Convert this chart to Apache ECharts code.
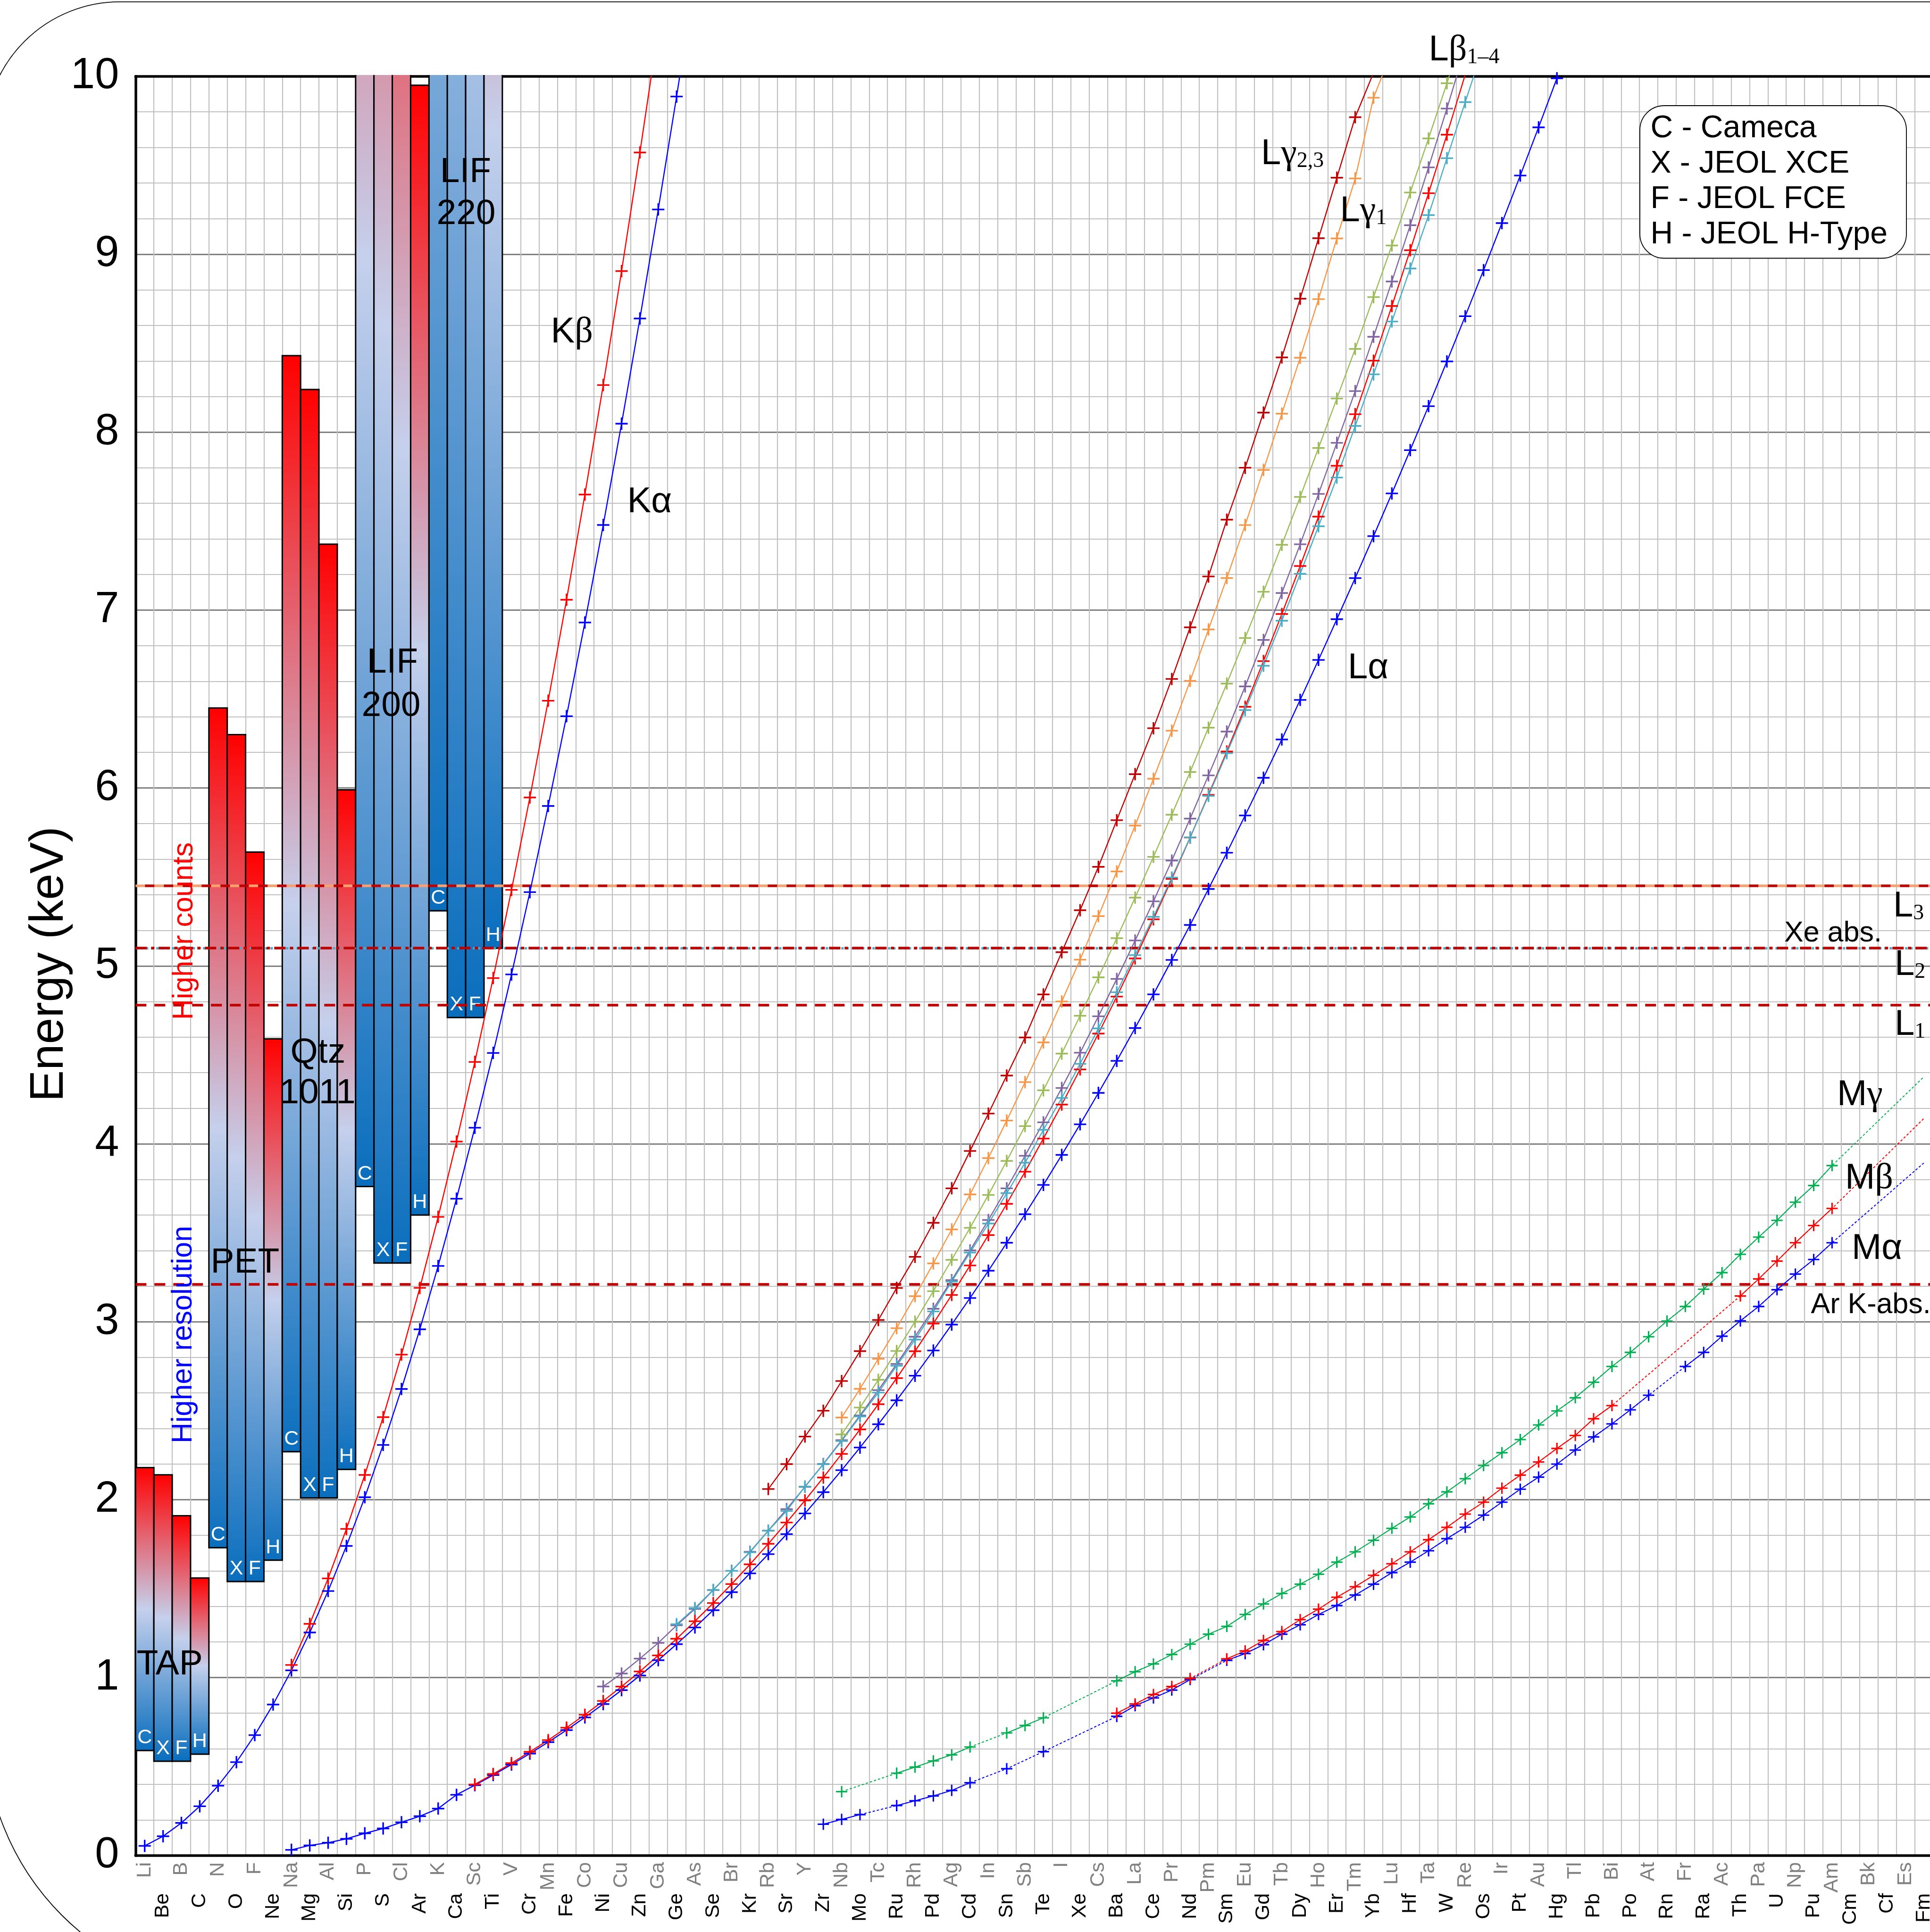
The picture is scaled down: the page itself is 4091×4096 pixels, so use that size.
<!DOCTYPE html>
<html>
<head>
<meta charset="utf-8">
<title>X-ray lines and WDS crystal ranges</title>
<script src="https://cdn.jsdelivr.net/npm/echarts@6/dist/echarts.min.js"></script>
<style>
  html, body { margin: 0; padding: 0; background: #fff; }
  #main { width: 4091px; height: 4096px; }
</style>
</head>
<body>
<div id="main"></div>
<script>
// element columns, Li (Z=3) .. Fm (Z=100)
var elements = ['Li','Be','B','C','N','O','F','Ne','Na','Mg','Al','Si','P','S','Cl','Ar',
  'K','Ca','Sc','Ti','V','Cr','Mn','Fe','Co','Ni','Cu','Zn','Ga','Ge','As','Se','Br','Kr',
  'Rb','Sr','Y','Zr','Nb','Mo','Tc','Ru','Rh','Pd','Ag','Cd','In','Sn','Sb','Te','I','Xe',
  'Cs','Ba','La','Ce','Pr','Nd','Pm','Sm','Eu','Gd','Tb','Dy','Ho','Er','Tm','Yb','Lu','Hf',
  'Ta','W','Re','Os','Ir','Pt','Au','Hg','Tl','Pb','Bi','Po','At','Rn',
  'Fr','Ra','Ac','Th','Pa','U','Np','Pu','Am','Cm','Bk','Cf','Es','Fm'];

// K lines (keV)
var kAlpha = [0.0543, 0.1085, 0.1833, 0.2770, 0.3924, 0.5249, 0.6768, 0.8486, 1.0410, 1.2536,
  1.4867, 1.7400, 2.0137, 2.3078, 2.6224, 2.9577, 3.3138, 3.6917, 4.0906, 4.5109, 4.9522,
  5.4147, 5.8988, 6.4038, 6.9303, 7.4782, 8.0478, 8.6389, 9.2517, 9.8864, 10.5437];   // from Li
var kBeta = [1.0711, 1.3022, 1.5575, 1.8359, 2.1391, 2.4640, 2.8156, 3.1905, 3.5896, 4.0127,
  4.4605, 4.9318, 5.4273, 5.9467, 6.4905, 7.0580, 7.6494, 8.2647, 8.9053, 9.5720, 10.2642]; // from Na

// L lines (keV)
var lAlpha = [0.032, 0.057, 0.072, 0.094, 0.125, 0.152, 0.187, 0.221, 0.264,
  0.3413, 0.3954, 0.4522, 0.5113, 0.5728, 0.6374, 0.7050, 0.7762, 0.8515, 0.9297, 1.0117,
  1.0979, 1.1880, 1.2819, 1.3791, 1.4804, 1.5860, 1.6941, 1.8066, 1.9226, 2.0424, 2.1659,
  2.2932, 2.4240, 2.5585, 2.6968, 2.8386, 2.9843, 3.1337, 3.2869, 3.4440, 3.6047, 3.7693,
  3.9377, 4.1099, 4.2865, 4.4663, 4.6510, 4.8402, 5.0337, 5.2304, 5.4325, 5.6361, 5.8457,
  6.0572, 6.2728, 6.4952, 6.7198, 6.9487, 7.1799, 7.4156, 7.6555, 7.8990, 8.1461, 8.3976,
  8.6517, 8.9108, 9.1751, 9.4423, 9.7133, 9.9888, 10.2685];   // from Na
var lBeta1 = [0.3996, 0.4584, 0.5192, 0.5828, 0.6488, 0.7185, 0.7914, 0.8688, 0.9498, 1.0347,
  1.1248, 1.2185, 1.3170, 1.4190, 1.5259, 1.6366, 1.7522, 1.8718, 1.9958, 2.1244, 2.2574,
  2.3948, 2.5368, 2.6833, 2.8344, 2.9902, 3.1509, 3.3165, 3.4872, 3.6628, 3.8435, 4.0295,
  4.2208, 4.4183, 4.6198, 4.8275, 5.0421, 5.2622, 5.4889, 5.7216, 5.9613, 6.2051, 6.4564,
  6.7132, 6.9780, 7.2477, 7.5253, 7.8109, 8.1010, 8.4018, 8.7090, 9.0227, 9.3431, 9.6720,
  10.0100];   // from Sc
var lBeta2 = [2.367, 2.518, 2.674, 2.836, 3.001, 3.172, 3.348, 3.528, 3.713, 3.904, 4.100,
  4.301, 4.507, 4.720, 4.936, 5.156, 5.384, 5.613, 5.850, 6.090, 6.339, 6.587, 6.843, 7.103,
  7.367, 7.636, 7.911, 8.189, 8.468, 8.759, 9.049, 9.347, 9.651, 9.961, 10.275];   // from Nb
var lBeta3 = [0.950, 1.023, 1.107, 1.195, 1.294, 1.386, 1.492, 1.600, 1.707, 1.826, 1.947,
  2.072, 2.201, 2.335, 2.473, 2.616, 2.763, 2.916, 3.073, 3.234, 3.401, 3.572, 3.750, 3.933,
  4.121, 4.314, 4.512, 4.717, 4.927, 5.143, 5.363, 5.592, 5.828, 6.071, 6.317, 6.571, 6.832,
  7.096, 7.370, 7.653, 7.940, 8.231, 8.536, 8.847, 9.163, 9.488, 9.819, 10.160];   // from Ni
var lBeta4 = [1.300, 1.391, 1.493, 1.600, 1.704, 1.826, 1.937, 2.074, 2.199, 2.330, 2.468,
  2.602, 2.753, 2.900, 3.058, 3.226, 3.389, 3.552, 3.723, 3.894, 4.079, 4.258, 4.450, 4.649,
  4.852, 5.061, 5.276, 5.497, 5.723, 5.956, 6.196, 6.438, 6.687, 6.940, 7.204, 7.471, 7.745,
  8.035, 8.325, 8.622, 8.920, 9.220, 9.540, 9.855, 10.170];   // from Ge
var lGamma1 = [2.462, 2.623, 2.792, 2.964, 3.144, 3.328, 3.519, 3.716, 3.920, 4.131, 4.347,
  4.570, 4.800, 5.035, 5.280, 5.531, 5.789, 6.052, 6.322, 6.602, 6.891, 7.180, 7.478, 7.788,
  8.104, 8.418, 8.748, 9.089, 9.426, 9.880, 10.140];   // from Nb
var lGamma23 = [2.06, 2.20, 2.355, 2.50, 2.667, 2.835, 3.01, 3.19, 3.365, 3.556, 3.75, 3.96,
  4.17, 4.384, 4.598, 4.84, 5.077, 5.313, 5.557, 5.819, 6.078, 6.336, 6.613, 6.903, 7.189,
  7.508, 7.80, 8.11, 8.42, 8.75, 9.09, 9.43, 9.77, 10.02];   // from Rb

// M lines (keV), null = no value; the Fm value only ends the dotted extension
var mAlpha = [0.176, 0.203, 0.230, null, 0.281, 0.308, 0.335, 0.366, 0.409, null,
  0.488, null, 0.584, null, null, null, 0.782, 0.842, 0.886, 0.930,
  0.989, null, 1.097, 1.135, 1.185, 1.244, 1.297, 1.355, 1.405, 1.464,
  1.525, 1.590, 1.649, 1.713, 1.781, 1.845, 1.913, 1.986, 2.059, 2.127,
  2.200, 2.279, 2.353, 2.426, 2.505, 2.587, null, 2.749, 2.828, 2.919,
  3.005, 3.086, 3.180, 3.268, 3.350, 3.444];   // from Zr
var mAlphaFm = 3.892;
var mBeta = [0.800, 0.852, 0.905, 0.950, 0.995, null, 1.106, 1.150, 1.209, 1.259,
  1.326, 1.385, 1.452, 1.511, 1.575, 1.640, 1.707, 1.775, 1.845, 1.919,
  1.986, 2.065, 2.138, 2.212, 2.288, 2.361, 2.455, 2.529, null, null,
  null, null, null, null, 3.145, 3.241, 3.341, 3.444, 3.541, 3.637];   // from Ba
var mBetaFm = 4.142;
var mGamma = [0.359, null, null, 0.463, 0.497, 0.532, 0.566, 0.610, null, 0.689,
  0.731, 0.774, null, null, null, 0.982, 1.033, 1.077, 1.130, 1.188,
  1.244, 1.288, 1.355, 1.414, 1.473, 1.525, 1.581, 1.649, 1.707, 1.772,
  1.839, 1.903, 1.977, 2.044, 2.118, 2.192, 2.264, 2.338, 2.420, 2.499,
  2.573, 2.660, 2.749, 2.828, 2.916, 3.004, 3.086, 3.183, 3.276, 3.379,
  3.476, 3.570, 3.672, 3.766, 3.878];   // from Nb
var mGammaFm = 4.376;

// spectrometer crystal ranges (keV): TAP, PET, Qtz 1011, LIF 200, LIF 220
var barCols = ['Li','Be','B','C', 'N','O','F','Ne', 'Na','Mg','Al','Si', 'P','S','Cl','Ar', 'K','Ca','Sc','Ti'];
var barTags = ['C','X','F','H', 'C','X','F','H', 'C','X','F','H', 'C','X','F','H', 'C','X','F','H'];
var barLow  = [0.59, 0.53, 0.53, 0.57, 1.73, 1.54, 1.54, 1.66, 2.27, 2.01, 2.01, 2.17,
  3.76, 3.33, 3.33, 3.60, 5.31, 4.71, 4.71, 5.10];
var barHigh = [2.18, 2.14, 1.91, 1.56, 6.45, 6.30, 5.64, 4.59, 8.43, 8.24, 7.37, 5.99,
  14.2, 13.9, 12.5, 9.95, 21.5, 20.8, 17.5, 14.3];

// absorption edges drawn as horizontal lines
var edgeL3 = 5.453, edgeL2 = 5.104, edgeL1 = 4.782, edgeArK = 3.206;

var SANS = '"Liberation Sans", Arial, sans-serif';
var SERIF = '"Liberation Serif", "Times New Roman", serif';
var PLUS = 'path://M-10,-1.3L10,-1.3L10,1.3L-10,1.3ZM-1.3,-10L1.3,-10L1.3,10L-1.3,10Z';

function pad(start, values) {
  var out = elements.map(function () { return null; });
  var s = elements.indexOf(start);
  for (var k = 0; k < values.length; k++) { out[s + k] = values[k]; }
  return out;
}

function curve(start, values, color) {
  return {
    type: 'line', z: 5, silent: true, data: pad(start, values),
    symbol: PLUS, symbolSize: 26, symbolKeepAspect: true, showAllSymbol: true,
    connectNulls: false,
    itemStyle: {color: color, borderWidth: 0},
    lineStyle: {color: color, width: 2.4}
  };
}

function mCurve(start, values, endVal, color) {
  var full = pad(start, values);
  full[elements.length - 1] = endVal;
  return [{
    type: 'line', z: 5, silent: true, data: full, connectNulls: true, showSymbol: false,
    lineStyle: {color: color, width: 2, type: [5, 4]}
  }, {
    type: 'line', z: 5, silent: true, data: pad(start, values), connectNulls: false,
    symbol: PLUS, symbolSize: 24, symbolKeepAspect: true, showAllSymbol: true,
    itemStyle: {color: color, borderWidth: 0},
    lineStyle: {color: color, width: 2}
  }];
}

function renderBar(params, api) {
  var i = api.value(0);
  var lo = api.coord([i, api.value(1)]);
  var hi = api.coord([i, api.value(2)]);
  var w = api.size([1, 0])[0];
  var cs = params.coordSys;
  var x0 = lo[0] - w / 2, x1 = lo[0] + w / 2;
  var yb = lo[1], yt = hi[1];
  var clipTop = cs.y - 2.8;
  var clipped = yt < clipTop;
  var ytc = clipped ? clipTop : yt;
  var fill = new echarts.graphic.LinearGradient(0, yt, 0, yb, [
    {offset: 0, color: '#ff0000'},
    {offset: 0.5, color: '#c5d0ec'},
    {offset: 1, color: '#0a6ebd'}
  ], true);
  var kids = [{type: 'rect', shape: {x: x0, y: ytc, width: w, height: yb - ytc}, style: {fill: fill}}];
  if (clipped) {
    kids.push({type: 'polyline', shape: {points: [[x0, ytc], [x0, yb], [x1, yb], [x1, ytc]]},
      style: {fill: 'none', stroke: '#000', lineWidth: 3}});
  } else {
    kids.push({type: 'rect', shape: {x: x0, y: ytc, width: w, height: yb - ytc},
      style: {fill: 'none', stroke: '#000', lineWidth: 3}});
  }
  kids.push({type: 'text', style: {text: barTags[params.dataIndex], x: lo[0], y: yb - 5.3,
    fill: '#fff', fontSize: 43, fontFamily: SANS, align: 'center', verticalAlign: 'bottom'}});
  return {type: 'group', children: kids};
}

var rich = {
  s: {fill: '#000', fontFamily: SANS, fontSize: 76, lineHeight: 76, verticalAlign: 'bottom'},
  g: {fill: '#000', fontFamily: SERIF, fontSize: 76, lineHeight: 76, verticalAlign: 'bottom'},
  b: {fill: '#000', fontFamily: SERIF, fontSize: 46, lineHeight: 46, verticalAlign: 'bottom'}
};
function richText(x, y, text) {
  return {type: 'text', z: 100, x: x, y: y, silent: true,
    style: {text: text, rich: rich, align: 'left', verticalAlign: 'bottom'}};
}
function plainText(x, y, text, size, color, align, rot) {
  return {type: 'text', z: 100, x: x, y: y, rotation: rot || 0, silent: true,
    style: {text: text, fill: color, fontSize: size, fontFamily: SANS,
      align: align, verticalAlign: rot ? 'middle' : 'bottom'}};
}

var darkRed = '#c00000';
var series = [{
  type: 'custom', z: 3, silent: true, clip: false,
  data: barCols.map(function (c, k) { return [c, barLow[k], barHigh[k]]; }),
  encode: {x: 0, y: [1, 2]},
  renderItem: renderBar
}, {
  type: 'line', z: 4, silent: true, data: [],
  markLine: {
    silent: true, symbol: ['none', 'none'], label: {show: false}, animation: false,
    data: [
      {yAxis: edgeL3, lineStyle: {color: '#f7a070', width: 5.5, type: [20, 20]}},
      {yAxis: edgeL3, lineStyle: {color: darkRed, width: 5.5, type: [20, 20], dashOffset: 20}},
      {yAxis: edgeL2, lineStyle: {color: '#4bacc6', width: 5, type: [5, 6]}},
      {yAxis: edgeL2, lineStyle: {color: darkRed, width: 5.5, type: [24, 9, 7, 9]}},
      {yAxis: edgeL1, lineStyle: {color: darkRed, width: 5.5, type: [23, 17]}},
      {yAxis: edgeArK, lineStyle: {color: darkRed, width: 5.5, type: [23, 17]}}
    ]
  }
},
  curve('Li', kAlpha, '#0000ff'),
  curve('Na', kBeta, '#ff0000'),
  curve('Na', lAlpha, '#0000ff'),
  curve('Sc', lBeta1, '#ff0000'),
  curve('Ni', lBeta3, '#8064a2'),
  curve('Ge', lBeta4, '#4bacc6'),
  curve('Nb', lBeta2, '#9bbb59'),
  curve('Nb', lGamma1, '#f79646'),
  curve('Rb', lGamma23, darkRed)
].concat(mCurve('Zr', mAlpha, mAlphaFm, '#0000ff'))
 .concat(mCurve('Ba', mBeta, mBetaFm, '#ff0000'))
 .concat(mCurve('Nb', mGamma, mGammaFm, '#00b050'));

var graphics = [
  // outer rounded frame
  {type: 'rect', z: 100, silent: true, shape: {x: -31.8, y: 3.9, width: 4400, height: 4220, r: [286, 0, 0, 557]},
    style: {fill: 'none', stroke: '#000', lineWidth: 1.8}},
  plainText(105, 2044, 'Energy (keV)', 100, '#000', 'center', Math.PI / 2),
  plainText(391, 1974, 'Higher counts', 61, '#ff0000', 'center', Math.PI / 2),
  plainText(389.5, 2829.5, 'Higher resolution', 61, '#0000ff', 'center', Math.PI / 2),
  // crystals
  plainText(359.7, 3567, 'TAP', 75, '#000', 'center'),
  plainText(519.5, 2715, 'PET', 75, '#000', 'center'),
  plainText(673.8, 2270, 'Qtz', 75, '#000', 'center'),
  plainText(673, 2356, '1011', 75, '#000', 'center'),
  plainText(832, 1443, 'LIF', 75, '#000', 'center'),
  plainText(829, 1535, '200', 75, '#000', 'center'),
  plainText(987, 403, 'LIF', 75, '#000', 'center'),
  plainText(988, 492, '220', 75, '#000', 'center'),
  // line names
  richText(1167.6, 743.4, '{s|K}{g|β}'),
  richText(1329.6, 1103.4, '{s|Kα}'),
  richText(2857, 1455, '{s|Lα}'),
  richText(2673, 365, '{s|L}{g|γ}{b|2,3}'),
  richText(2840.5, 486.4, '{s|L}{g|γ}{b|1}'),
  richText(3028.6, 145, '{s|L}{g|β}{b|1–4}'),
  richText(3894, 2360.4, '{s|M}{g|γ}'),
  richText(3911, 2537.4, '{s|M}{g|β}'),
  richText(3925, 2686.4, '{s|Mα}'),
  // edges
  richText(4013, 1960.4, '{s|L}{b|3}'),
  plainText(3782, 2009.6, 'Xe abs.', 61, '#000', 'left'),
  richText(4016, 2084, '{s|L}{b|2}'),
  richText(4016, 2211, '{s|L}{b|1}'),
  plainText(3838.5, 2797.6, 'Ar K-abs.', 61, '#000', 'left'),
  // spectrometer key
  {type: 'rect', z: 100, silent: true, shape: {x: 3476, y: 224, width: 565, height: 323.5, r: 51.6},
    style: {fill: '#fff', stroke: '#000', lineWidth: 1.8}},
  plainText(3498.5, 305.3, 'C - Cameca', 66, '#000', 'left'),
  plainText(3498.5, 380.5, 'X - JEOL XCE', 66, '#000', 'left'),
  plainText(3498.5, 455.7, 'F - JEOL FCE', 66, '#000', 'left'),
  plainText(3498.5, 531, 'H - JEOL H-Type', 66, '#000', 'left')
];

var chart = echarts.init(document.getElementById('main'));
chart.setOption({
  animation: false,
  backgroundColor: '#fff',
  textStyle: {fontFamily: SANS},
  grid: {left: 287.3, top: 161.8, width: 3809.9, height: 3772.1, containLabel: false, outerBoundsMode: 'none'},
  xAxis: [{
    type: 'category', data: elements, position: 'bottom', boundaryGap: true,
    axisLine: {show: true, onZero: false, lineStyle: {color: '#000', width: 5.6}},
    axisTick: {show: false},
    axisLabel: {interval: function (i) { return i % 2 === 0; }, rotate: 90, margin: 14,
      color: '#808080', fontSize: 43, fontFamily: SANS},
    splitLine: {show: true, interval: 0, lineStyle: {color: '#c0c0c0', width: 2.2}}
  }, {
    type: 'category', data: elements, position: 'bottom', offset: 66, boundaryGap: true,
    axisLine: {show: false, onZero: false}, axisTick: {show: false}, splitLine: {show: false},
    axisLabel: {interval: function (i) { return i % 2 === 1; }, rotate: 90, margin: 14,
      color: '#000', fontSize: 43, fontFamily: SANS}
  }, {
    type: 'category', data: elements, position: 'top', boundaryGap: true, z: 1,
    axisLine: {show: true, onZero: false, lineStyle: {color: '#000', width: 5.5}},
    axisTick: {show: false}, axisLabel: {show: false}, splitLine: {show: false}
  }],
  yAxis: {
    type: 'value', min: 0, max: 10, interval: 1,
    axisLine: {show: true, onZero: false, lineStyle: {color: '#000', width: 5.5}},
    axisTick: {show: false},
    axisLabel: {fontSize: 92, color: '#000', margin: 35, fontFamily: SANS},
    splitLine: {show: true, lineStyle: {color: '#808080', width: 2.9}},
    minorTick: {show: false, splitNumber: 5},
    minorSplitLine: {show: true, lineStyle: {color: '#c0c0c0', width: 2.2}}
  },
  series: series,
  graphic: {elements: graphics}
});
</script>
</body>
</html>
